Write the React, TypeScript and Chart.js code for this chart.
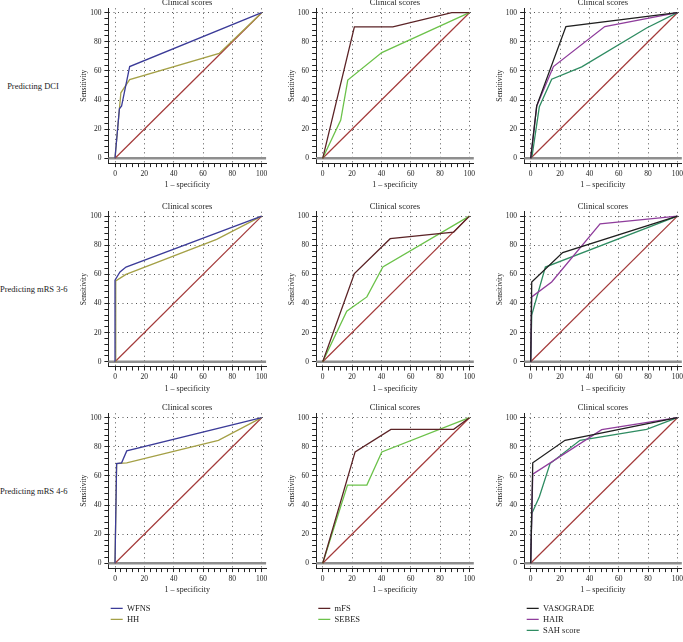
import React, { useEffect, useRef } from 'react';
import { Chart, registerables } from 'chart.js';

Chart.register(...registerables);

type Pt = [number, number];

// ---------- text ----------
const FONT = "'Liberation Serif', 'Times New Roman', serif";
const ROW_LABELS = ['Predicting DCI', 'Predicting mRS 3-6', 'Predicting mRS 4-6'];
const PANEL_TITLE = 'Clinical scores';
const X_TITLE = '1 \u2013 specificity';
const Y_TITLE = 'Sensitivity';
const MAJOR_TICKS = [0, 20, 40, 60, 80, 100];
const MINOR_STEP = 4;

// ---------- scores per column ----------
const COL_SCORES = [
  ['WFNS', 'HH'],
  ['mFS', 'SEBES'],
  ['VASOGRADE', 'HAIR', 'SAH score'],
];
const SCORE_COLORS: Record<string, string> = {
  WFNS: '#3b3b98',
  HH: '#a4a046',
  mFS: '#5b2326',
  SEBES: '#6cc24a',
  VASOGRADE: '#1f1f1f',
  HAIR: '#8f3d9c',
  'SAH score': '#2f8c62',
};
const REFERENCE_COLOR = '#a33a3a';
const REFERENCE_LINE: Pt[] = [[0, 0], [100, 100]];

// ---------- ROC points: [1 - specificity, sensitivity] ----------
// Predicting DCI
const WFNS_DCI: Pt[] = [[0, 0], [3, 34], [4.5, 36], [10, 63], [100, 100]];
const HH_DCI: Pt[] = [[0, 0], [4, 45], [10, 54], [71, 72], [100, 100]];
const MFS_DCI: Pt[] = [[0, 0], [21.6, 90.2], [47.8, 90.2], [88, 100], [100, 100]];
const SEBES_DCI: Pt[] = [[0, 0], [12.3, 26.3], [17.1, 53.7], [40.3, 72.6], [100, 100]];
const VASO_DCI: Pt[] = [[0, 0], [4.1, 36], [24, 90.5], [100, 100]];
const HAIR_DCI: Pt[] = [[0, 0], [4.1, 36], [15.5, 63], [50.5, 90.5], [100, 100]];
const SAH_DCI: Pt[] = [[0, 0], [1, 2], [5.9, 35.4], [14.3, 54.3], [34.8, 62.8], [79, 89.5], [100, 100]];

// Predicting mRS 3-6
const WFNS_MRS36: Pt[] = [[0, 0], [0, 56], [3.4, 61.6], [7.5, 65], [100, 100]];
const HH_MRS36: Pt[] = [[0, 0], [0.5, 55.5], [7.5, 60], [69.3, 84], [100, 100]];
const MFS_MRS36: Pt[] = [[0, 0], [21.6, 60.5], [46, 84.5], [89.3, 89], [100, 100]];
const SEBES_MRS36: Pt[] = [[0, 0], [16.4, 34.7], [30.1, 44.5], [41, 65], [100, 100]];
const VASO_MRS36: Pt[] = [[0, 0], [0.7, 54.8], [21.8, 74.9], [100, 100]];
const HAIR_MRS36: Pt[] = [[0, 0], [0.7, 44.5], [14.3, 54.8], [47.3, 94.7], [100, 100]];
const SAH_MRS36: Pt[] = [[0, 0], [0.7, 32], [10, 65], [100, 100]];

// Predicting mRS 4-6
const WFNS_MRS46: Pt[] = [[0, 0], [1.1, 68.5], [4.5, 69], [8, 77.2], [100, 100]];
const HH_MRS46: Pt[] = [[0, 0], [1.1, 68.5], [8, 69], [70.5, 84.5], [100, 100]];
const MFS_MRS46: Pt[] = [[0, 0], [22.1, 76.5], [46.5, 92], [89.3, 92], [100, 100]];
const SEBES_MRS46: Pt[] = [[0, 0], [16.9, 53.7], [30.1, 53.7], [40.3, 76.5], [100, 100]];
const VASO_MRS46: Pt[] = [[0, 0], [1.4, 69], [23.4, 84.5], [100, 100]];
const HAIR_MRS46: Pt[] = [[0, 0], [1.4, 61.2], [48.4, 91.8], [100, 100]];
const SAH_MRS46: Pt[] = [[0, 0], [0.7, 34], [5.9, 45.7], [13.2, 68.5], [33.6, 84.5], [79, 92], [100, 100]];

const PANEL_DATA: Pt[][][][] = [
  [[WFNS_DCI, HH_DCI], [MFS_DCI, SEBES_DCI], [VASO_DCI, HAIR_DCI, SAH_DCI]],
  [[WFNS_MRS36, HH_MRS36], [MFS_MRS36, SEBES_MRS36], [VASO_MRS36, HAIR_MRS36, SAH_MRS36]],
  [[WFNS_MRS46, HH_MRS46], [MFS_MRS46, SEBES_MRS46], [VASO_MRS46, HAIR_MRS46, SAH_MRS46]],
];

// ---------- layout (pixels) ----------
const COL_ZERO_X = [115, 322.7, 530.7];
const ROW_ZERO_Y = [158.3, 361.7, 563.3];
const X_MIN = -4.5, X_MAX = 103, Y_MIN = -3.3, Y_MAX = 103;
const PX_X = 1.467, PX_Y = 1.456;
const Y_AXIS_W = 29;
const X_AXIS_H = 33.4;
const TITLE_SIZE = 8.5;
const TITLE_H = TITLE_SIZE * 1.2;
const PAD_R = 4;
const LEGEND_LINE_X = [110.7, 318.3, 526.7];
const LEGEND_FIRST_Y = 608.3;
const LEGEND_FONT = 8.5;
const LEGEND_PAD = 2.5;

function geometry(row: number, col: number) {
  const areaLeft = COL_ZERO_X[col] + X_MIN * PX_X;
  const areaW = (X_MAX - X_MIN) * PX_X;
  const areaTop = ROW_ZERO_Y[row] - Y_MAX * PX_Y;
  const areaH = (Y_MAX - Y_MIN) * PX_Y;
  const rawLeft = areaLeft - Y_AXIS_W;
  const left = Math.floor(rawLeft);
  const padL = rawLeft - left;
  const rawTop = areaTop - TITLE_H;
  const top = Math.floor(rawTop);
  const padT = rawTop - top;
  const w = Math.ceil(padL + Y_AXIS_W + areaW + PAD_R);
  const padR = w - (padL + Y_AXIS_W + areaW);
  const h = Math.ceil(padT + TITLE_H + areaH + X_AXIS_H);
  const padB = h - (padT + TITLE_H + areaH + X_AXIS_H);
  return { left, top, w, h, padL, padT, padR, padB };
}

const zeroLine = {
  id: 'zeroLine',
  beforeDatasetsDraw(chart: any) {
    const { ctx, chartArea, scales } = chart;
    const y = scales.y.getPixelForValue(0);
    ctx.save();
    ctx.strokeStyle = '#8e8e8e';
    ctx.lineWidth = 2.4;
    ctx.beginPath();
    ctx.moveTo(chartArea.left, y);
    ctx.lineTo(chartArea.right, y);
    ctx.stroke();
    ctx.restore();
  },
};

function setTicks(axis: any) {
  const ticks: { value: number }[] = [];
  for (let v = MAJOR_TICKS[0]; v <= MAJOR_TICKS[MAJOR_TICKS.length - 1]; v += MINOR_STEP) ticks.push({ value: v });
  axis.ticks = ticks;
}

function axisOptions(isX: boolean) {
  return {
    type: 'linear' as const,
    min: isX ? X_MIN : Y_MIN,
    max: isX ? X_MAX : Y_MAX,
    afterBuildTicks: setTicks,
    afterFit: (s: any) => {
      if (isX) s.height = X_AXIS_H;
      else s.width = Y_AXIS_W;
    },
    ticks: {
      autoSkip: false,
      maxRotation: 0,
      padding: isX ? 2 : 3,
      color: '#222',
      font: { family: FONT, size: 7.5 },
      callback: (v: any) => (MAJOR_TICKS.includes(Number(v)) ? String(v) : ''),
    },
    grid: {
      color: (c: any) => (c.tick && MAJOR_TICKS.includes(c.tick.value) ? '#555' : 'rgba(0,0,0,0)'),
      lineWidth: 1,
      tickColor: '#222',
      tickLength: 4,
      tickWidth: 1,
    },
    border: { display: true, color: '#222', width: 1, dash: [1, 3.5] },
    title: {
      display: true,
      text: isX ? X_TITLE : Y_TITLE,
      color: '#222',
      font: { family: FONT, size: isX ? 8 : 7.5 },
      padding: isX ? { top: 0, bottom: 6.4 } : 0,
    },
  };
}

function Panel({ row, col }: { row: number; col: number }) {
  const ref = useRef<HTMLCanvasElement>(null);
  const g = geometry(row, col);
  useEffect(() => {
    const names = COL_SCORES[col];
    const series = PANEL_DATA[row][col];
    const datasets: any[] = names.map((name, i) => ({
      label: name,
      data: series[i].map(([x, y]) => ({ x, y })),
      borderColor: SCORE_COLORS[name],
      borderWidth: 1.3,
      pointRadius: 0,
      fill: false,
    }));
    datasets.push({
      label: 'Reference',
      data: REFERENCE_LINE.map(([x, y]) => ({ x, y })),
      borderColor: REFERENCE_COLOR,
      borderWidth: 1.2,
      pointRadius: 0,
      fill: false,
    });
    const chart = new Chart(ref.current as HTMLCanvasElement, {
      type: 'line',
      data: { datasets },
      plugins: [zeroLine],
      options: {
        animation: false,
        responsive: false,
        maintainAspectRatio: false,
        layout: { padding: { left: g.padL, top: g.padT, right: g.padR, bottom: g.padB } },
        elements: { line: { tension: 0 }, point: { radius: 0 } },
        plugins: {
          legend: { display: false },
          tooltip: { enabled: false },
          title: {
            display: true,
            text: PANEL_TITLE,
            fullSize: false,
            color: '#222',
            font: { family: FONT, size: TITLE_SIZE, weight: 'normal' },
            padding: 0,
          },
        },
        scales: { x: axisOptions(true) as any, y: axisOptions(false) as any },
      } as any,
    });
    return () => chart.destroy();
  }, [row, col]);
  return (
    <canvas
      ref={ref}
      width={g.w}
      height={g.h}
      style={{ position: 'absolute', left: g.left, top: g.top, width: g.w, height: g.h }}
    />
  );
}

function LegendBlock({ col }: { col: number }) {
  const ref = useRef<HTMLCanvasElement>(null);
  const rawLeft = LEGEND_LINE_X[col] - LEGEND_PAD;
  const left = Math.floor(rawLeft);
  const rawTop = LEGEND_FIRST_Y - LEGEND_FONT / 2 - LEGEND_PAD;
  const top = Math.floor(rawTop);
  const w = 150;
  const h = 642 - top;
  useEffect(() => {
    const names = COL_SCORES[col];
    const chart = new Chart(ref.current as HTMLCanvasElement, {
      type: 'line',
      data: {
        labels: [],
        datasets: names.map((name) => ({
          label: name,
          data: [],
          borderColor: SCORE_COLORS[name],
          backgroundColor: SCORE_COLORS[name],
          borderWidth: 1.3,
        })),
      },
      options: {
        animation: false,
        responsive: false,
        maintainAspectRatio: false,
        layout: { padding: { left: rawLeft - left, top: rawTop - top, right: 0, bottom: 0 } },
        scales: { x: { display: false }, y: { display: false } },
        plugins: {
          tooltip: { enabled: false },
          legend: {
            display: true,
            position: 'left',
            align: 'start',
            labels: {
              usePointStyle: true,
              pointStyle: 'line',
              pointStyleWidth: 12,
              padding: LEGEND_PAD,
              color: '#222',
              font: { family: FONT, size: LEGEND_FONT },
            },
          },
        },
      } as any,
    });
    return () => chart.destroy();
  }, [col]);
  return (
    <canvas
      ref={ref}
      width={w}
      height={h}
      style={{ position: 'absolute', left, top, width: w, height: h }}
    />
  );
}

export default function App() {
  const rows = [0, 1, 2];
  const cols = [0, 1, 2];
  return (
    <div
      style={{
        position: 'absolute',
        left: 0,
        top: 0,
        width: 683,
        height: 642,
        overflow: 'hidden',
        background: '#fff',
      }}
    >
      {rows.map((r) => (
        <div
          key={'lab' + r}
          style={{
            position: 'absolute',
            left: 0,
            width: 66,
            top: ROW_ZERO_Y[r] - 50 * PX_Y - 6,
            height: 12,
            lineHeight: '12px',
            textAlign: 'center',
            fontFamily: FONT,
            fontSize: 8.5,
            color: '#222',
            whiteSpace: 'nowrap',
          }}
        >
          {ROW_LABELS[r]}
        </div>
      ))}
      {rows.map((r) => cols.map((c) => <Panel key={r + '-' + c} row={r} col={c} />))}
      {cols.map((c) => (
        <LegendBlock key={'leg' + c} col={c} />
      ))}
    </div>
  );
}
